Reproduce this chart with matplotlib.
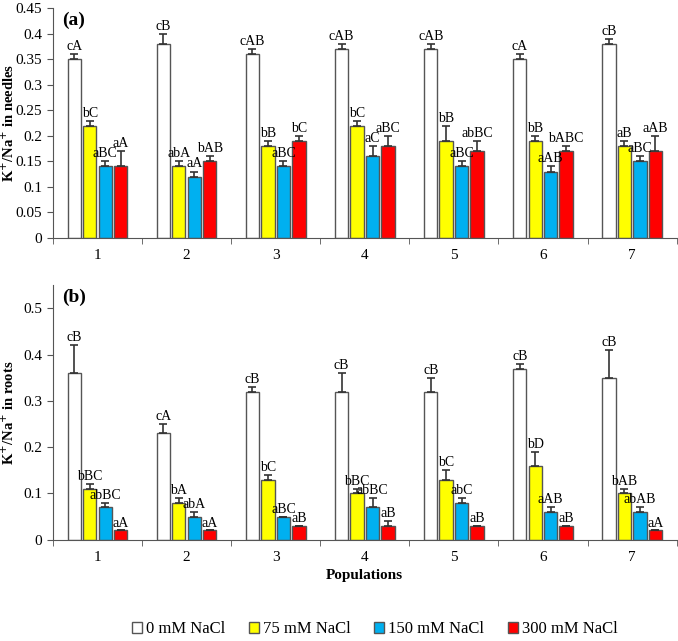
import matplotlib
matplotlib.use("Agg")
import matplotlib.pyplot as plt
import numpy as np
from matplotlib.ticker import FuncFormatter

plt.rcParams['font.family'] = ['Liberation Serif', 'DejaVu Serif']

populations = ['1', '2', '3', '4', '5', '6', '7']
treatments = ['0 mM NaCl', '75 mM NaCl', '150 mM NaCl', '300 mM NaCl']
colors = ['white', '#ffff00', '#00b0f0', '#ff0000']

# needles
needles = [
    [0.35, 0.38, 0.36, 0.37, 0.37, 0.35, 0.38],
    [0.22, 0.14, 0.18, 0.22, 0.19, 0.19, 0.18],
    [0.14, 0.12, 0.14, 0.16, 0.14, 0.13, 0.15],
    [0.14, 0.15, 0.19, 0.18, 0.17, 0.17, 0.17],
]
needles_err = [
    [0.01, 0.02, 0.01, 0.01, 0.01, 0.01, 0.01],
    [0.01, 0.01, 0.01, 0.01, 0.03, 0.01, 0.01],
    [0.01, 0.01, 0.01, 0.02, 0.01, 0.01, 0.01],
    [0.03, 0.01, 0.01, 0.02, 0.02, 0.01, 0.03],
]
needles_lbl = [
    ['cA', 'cB', 'cAB', 'cAB', 'cAB', 'cA', 'cB'],
    ['bC', 'abA', 'bB', 'bC', 'bB', 'bB', 'aB'],
    ['aBC', 'aA', 'aBC', 'aC', 'aBC', 'aAB', 'aBC'],
    ['aA', 'bAB', 'bC', 'aBC', 'abBC', 'bABC', 'aAB'],
]

# roots
roots = [
    [0.36, 0.23, 0.32, 0.32, 0.32, 0.37, 0.35],
    [0.11, 0.08, 0.13, 0.10, 0.13, 0.16, 0.10],
    [0.07, 0.05, 0.05, 0.07, 0.08, 0.06, 0.06],
    [0.02, 0.02, 0.03, 0.03, 0.03, 0.03, 0.02],
]
roots_err = [
    [0.06, 0.02, 0.01, 0.04, 0.03, 0.01, 0.06],
    [0.01, 0.01, 0.01, 0.01, 0.02, 0.03, 0.01],
    [0.01, 0.01, 0.0, 0.02, 0.01, 0.01, 0.01],
    [0.0, 0.0, 0.0, 0.01, 0.0, 0.0, 0.0],
]
roots_lbl = [
    ['cB', 'cA', 'cB', 'cB', 'cB', 'cB', 'cB'],
    ['bBC', 'bA', 'bC', 'bBC', 'bC', 'bD', 'bAB'],
    ['abBC', 'abA', 'aBC', 'abBC', 'abC', 'aAB', 'abAB'],
    ['aA', 'aA', 'aB', 'aB', 'aB', 'aB', 'aA'],
]


def draw_panel(ax, vals, errs, lbls, ymax, ystep, ylabel, tag, txt_off):
    x = np.arange(1, len(populations) + 1)
    offsets = [-0.26, -0.087, 0.087, 0.26]
    for i in range(4):
        xi = x + offsets[i]
        ax.bar(xi, vals[i], width=0.15, color=colors[i], edgecolor='#555555',
               linewidth=1.0, label=treatments[i], zorder=2)
        ax.errorbar(xi, vals[i], yerr=[np.zeros(len(x)), errs[i]], fmt='none',
                    ecolor='#333333', elinewidth=1.2, capsize=3, capthick=1.2, zorder=3)
        for j in range(len(x)):
            ax.text(xi[j], vals[i][j] + errs[i][j] + txt_off, lbls[i][j],
                    ha='center', va='bottom', fontsize=10)
    ax.set_xlim(0.5, 7.5)
    ax.set_ylim(0, ymax)
    ax.set_yticks(np.arange(0, ymax + 1e-9, ystep))
    ax.yaxis.set_major_formatter(FuncFormatter(lambda v, p: '%g' % round(v, 3)))
    ax.set_xticks(x)
    ax.set_xticklabels(populations, fontsize=11)
    ax.set_xticks(np.arange(0.5, 8, 1), minor=True)
    ax.tick_params(axis='x', which='major', length=0, pad=8)
    ax.tick_params(axis='x', which='minor', length=4, color='#555555')
    ax.tick_params(axis='y', length=4, color='#555555', labelsize=11)
    for s in ['top', 'right']:
        ax.spines[s].set_visible(False)
    for s in ['left', 'bottom']:
        ax.spines[s].set_color('#555555')
    ax.set_ylabel(ylabel, fontsize=10.5, fontweight='bold')
    ax.yaxis.set_label_coords(-0.058, 0.5)
    ax.text(0.6, ymax * 0.985, tag, fontsize=14, fontweight='bold', va='top')


fig = plt.figure(figsize=(6.78, 6.41), dpi=100)
ax1 = fig.add_axes([0.078, 0.629, 0.92, 0.358])
ax2 = fig.add_axes([0.078, 0.158, 0.92, 0.397])

draw_panel(ax1, needles, needles_err, needles_lbl, 0.45, 0.05,
           'K$^{+}$/Na$^{+}$ in needles', '(a)', 0.002)
draw_panel(ax2, roots, roots_err, roots_lbl, 0.55, 0.1,
           'K$^{+}$/Na$^{+}$ in roots', '(b)', 0.002)
ax2.set_yticks(np.arange(0, 0.51, 0.1))
ax2.set_xlabel('Populations', fontsize=11, fontweight='bold', labelpad=4)

handles, labels = ax2.get_legend_handles_labels()
fig.legend(handles, labels, loc='center', bbox_to_anchor=(0.553, 0.018), ncol=4,
           frameon=False, fontsize=12, handlelength=0.6, handleheight=0.6,
           handletextpad=0.25, columnspacing=1.4)

fig.savefig('out.png', dpi=100)
